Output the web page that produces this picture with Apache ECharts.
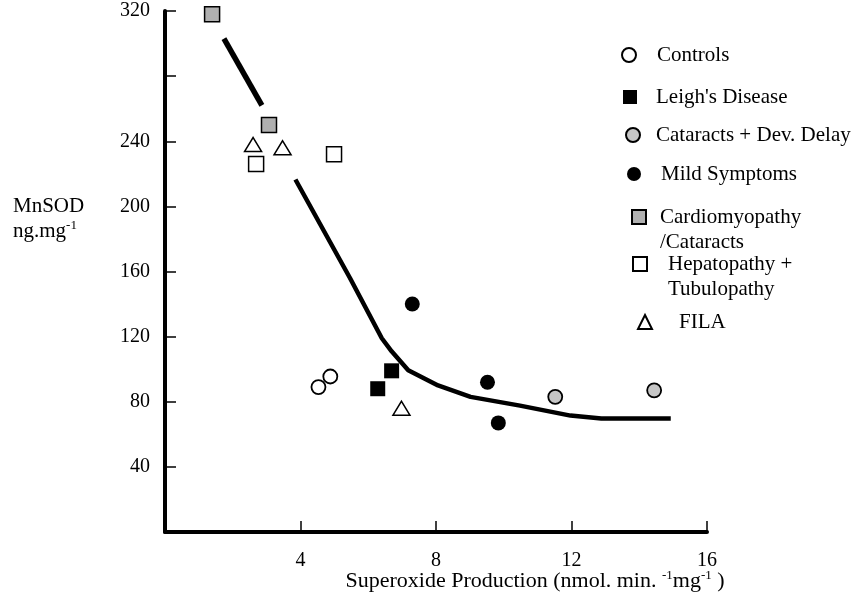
<!DOCTYPE html>
<html>
<head>
<meta charset="utf-8">
<script src="https://cdn.jsdelivr.net/npm/echarts@6/dist/echarts.min.js"></script>
<style>
  html,body{margin:0;padding:0;background:#fff;}
  #main{width:859px;height:597px;}
</style>
</head>
<body>
<div id="main"></div>
<script>
// points: [superoxide production, MnSOD]
var controls  = [[4.53, 89], [4.88, 95.5]];
var leighs    = [[6.28, 88], [6.69, 99]];
var cataracts = [[11.52, 83], [14.44, 87]];
var mild      = [[7.30, 140], [9.52, 92], [9.84, 67]];
var cardio    = [[1.39, 318], [3.07, 250]];
var hepato    = [[2.69, 226], [4.99, 232]];
var fila      = [[2.60, 238], [3.47, 236], [6.98, 76]];

// the drawn trend line (it is broken where the labels sit)
var curveUpper = [[1.74, 303], [2.86, 262]];
var curveLower = [[3.85, 216.5], [5.46, 156], [6.40, 119], [6.69, 111], [7.18, 99.4],
                  [8.06, 90], [9.02, 83], [10.48, 77.6], [11.97, 71.5], [12.88, 69.7], [14.93, 69.7]];

// tick labels shown on the axes
var xTickLabels = [4, 8, 12, 16];
var yTickLabels = [40, 80, 120, 160, 200, 240, 320];

var names = ['Controls', "Leigh's Disease", 'Cataracts + Dev. Delay', 'Mild Symptoms',
             'Cardiomyopathy\n/Cataracts', 'Hepatopathy +\nTubulopathy', 'FILA'];

var serif = '"Liberation Serif", "DejaVu Serif", serif';
var LH = 25;
var myChart = echarts.init(document.getElementById('main'));

// one legend per entry so each can sit where the figure has it;
// two-line entries get an empty first line so the icon lines up with the first text line
function legendItem(name, cx, cy, pad) {
  var two = name.indexOf('\n') >= 0;
  return {
    data: [name],
    orient: 'vertical',
    padding: 0,
    left: cx - 7,
    top: two ? cy - LH * 1.5 : cy - LH / 2,
    itemWidth: 14,
    itemHeight: 14,
    selectedMode: false,
    formatter: function (n) { return two ? '\n' + n : n; },
    textStyle: {
      fontFamily: serif, fontSize: 21, color: '#000', lineHeight: LH,
      padding: [0, 0, 0, pad]
    }
  };
}

function pts(name, data, symbol, size, fill, border) {
  return {
    name: name, type: 'scatter', data: data, symbol: symbol, symbolSize: size,
    itemStyle: {color: fill, borderColor: '#000', borderWidth: border, opacity: 1},
    z: 5
  };
}

var option = {
  animation: false,
  backgroundColor: '#fff',
  grid: {left: 165, right: 152, top: 11, bottom: 65, outerBoundsMode: 'none', containLabel: false},
  legend: [
    legendItem(names[0], 628, 55, 16),
    legendItem(names[1], 630, 97, 14),
    legendItem(names[2], 632, 135, 11),
    legendItem(names[3], 634, 174, 15),
    legendItem(names[4], 638, 217, 9),
    legendItem(names[5], 639, 264, 16),
    legendItem(names[6], 644, 322, 22)
  ],
  graphic: [{
    type: 'text', left: 13, top: 196,
    style: {
      text: '{a|MnSOD}\n{a|ng.mg}{s|-1}',
      rich: {
        a: {fontFamily: serif, fontSize: 21, color: '#000', lineHeight: 25},
        s: {fontFamily: serif, fontSize: 13, color: '#000', lineHeight: 25, verticalAlign: 'top'}
      }
    }
  }],
  xAxis: {
    type: 'value', min: 0, max: 16, interval: 4,
    splitLine: {show: false},
    axisLine: {lineStyle: {color: '#000', width: 4}},
    axisTick: {inside: true, length: 11, lineStyle: {color: '#000', width: 1.5}},
    axisLabel: {
      margin: 19, fontFamily: serif, fontSize: 20, color: '#000',
      formatter: function (v) { return xTickLabels.indexOf(v) >= 0 ? String(v) : ''; }
    },
    name: '{a|Superoxide Production (nmol. min. }{s|-1}{a|mg}{s|-1}{a| )}',
    nameLocation: 'middle', nameGap: 37, nameMoveOverlap: false,
    nameTextStyle: {
      padding: [0, 0, 0, 198],
      rich: {
        a: {fontFamily: serif, fontSize: 22, color: '#000', lineHeight: 24},
        s: {fontFamily: serif, fontSize: 13, color: '#000', lineHeight: 24, verticalAlign: 'top'}
      }
    }
  },
  yAxis: {
    type: 'value', min: 0, max: 320, interval: 40,
    splitLine: {show: false},
    axisLine: {lineStyle: {color: '#000', width: 4}},
    axisTick: {inside: true, length: 11, lineStyle: {color: '#000', width: 1.5}},
    axisLabel: {
      margin: 15, fontFamily: serif, fontSize: 20, color: '#000',
      formatter: function (v) { return yTickLabels.indexOf(v) >= 0 ? String(v) : ''; }
    }
  },
  series: [
    {type: 'line', data: curveUpper, symbol: 'none', silent: true,
     lineStyle: {color: '#000', width: 5.5}, z: 3},
    {type: 'line', data: curveLower, symbol: 'none', silent: true,
     lineStyle: {color: '#000', width: 4.5}, z: 3},
    pts(names[0], controls, 'circle', 14, '#fff', 1.8),
    pts(names[1], leighs, 'rect', 15, '#000', 0),
    pts(names[2], cataracts, 'circle', 14, '#c6c6c6', 1.8),
    pts(names[3], mild, 'circle', 15, '#000', 0),
    pts(names[4], cardio, 'rect', 15, '#b0b0b0', 1.5),
    pts(names[5], hepato, 'rect', 15, '#fff', 1.5),
    pts(names[6], fila, 'triangle', [17, 14], '#fff', 1.5)
  ]
};

myChart.setOption(option);
</script>
</body>
</html>
